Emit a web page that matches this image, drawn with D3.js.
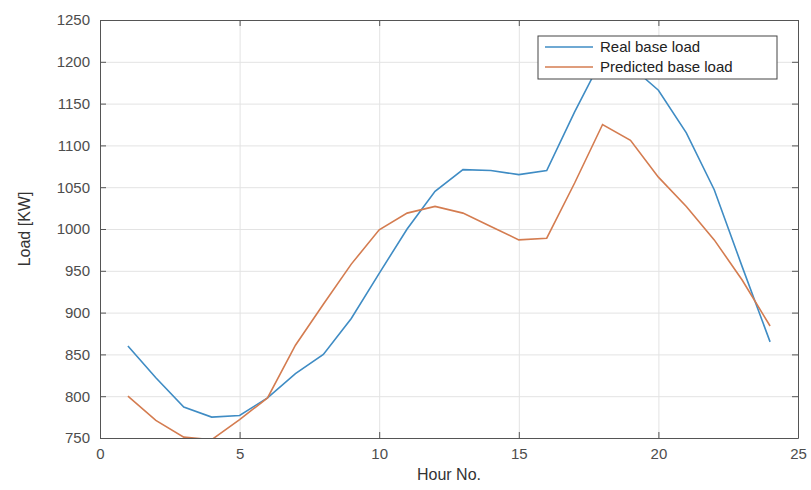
<!DOCTYPE html>
<html>
<head>
<meta charset="utf-8">
<script src="https://cdn.jsdelivr.net/npm/d3@7"></script>
<style>
  body { margin: 0; background: #fff; }
  svg { display: block; font-family: "Liberation Sans", Arial, sans-serif; }
  .grid line { stroke: #e3e3e3; stroke-width: 1; }
  .grid path { display: none; }
  .axis text { fill: #4d4d4d; font-size: 15px; }
  .axis path, .axis line { stroke: #555; }
</style>
</head>
<body>
<div id="chart"></div>
<script>
// Hourly base load
var hours = [1, 2, 3, 4, 5, 6, 7, 8, 9, 10, 11, 12, 13, 14, 15, 16, 17, 18, 19, 20, 21, 22, 23, 24];
var realLoad = [860, 822, 787, 775, 777, 798, 827, 850, 893, 947, 1000, 1045, 1071, 1070, 1065, 1070, 1140, 1205, 1195, 1166, 1115, 1047, 955, 865];
var predictedLoad = [800, 771, 751, 748, 772, 798, 861, 910, 958, 999, 1019, 1027, 1019, 1003, 987, 989, 1055, 1125, 1106, 1062, 1027, 987, 939, 884];
var xTicks = [0, 5, 10, 15, 20, 25];
var yTicks = [750, 800, 850, 900, 950, 1000, 1050, 1100, 1150, 1200, 1250];
var seriesNames = ["Real base load", "Predicted base load"];
var seriesColors = ["#3f8cc4", "#d47c50"];

var W = 811, H = 490;
var margin = { top: 20, right: 13, bottom: 52, left: 100 };
var width = W - margin.left - margin.right;
var height = H - margin.top - margin.bottom;

var svg = d3.select("#chart").append("svg")
    .attr("width", W)
    .attr("height", H);

var g = svg.append("g")
    .attr("transform", "translate(" + margin.left + "," + margin.top + ")");

var x = d3.scaleLinear().domain([0, 25]).range([0, width]);
var y = d3.scaleLinear().domain([750, 1250]).range([height, 0]);

// Grid
g.append("g").attr("class", "grid")
    .attr("transform", "translate(0," + height + ")")
    .call(d3.axisBottom(x).tickValues(xTicks).tickSize(-height).tickFormat(""));
g.append("g").attr("class", "grid")
    .call(d3.axisLeft(y).tickValues(yTicks).tickSize(-width).tickFormat(""));

// Clip lines to plot box
g.append("clipPath").attr("id", "clip")
  .append("rect").attr("width", width).attr("height", height);

var line = d3.line()
    .x(function (d) { return x(d.h); })
    .y(function (d) { return y(d.v); });

[realLoad, predictedLoad].forEach(function (vals, i) {
    var data = hours.map(function (h, j) { return { h: h, v: vals[j] }; });
    g.append("path")
        .datum(data)
        .attr("clip-path", "url(#clip)")
        .attr("fill", "none")
        .attr("stroke", seriesColors[i])
        .attr("stroke-width", 1.6)
        .attr("d", line);
});

// Axes, MATLAB style: inward ticks on all four sides
g.append("g").attr("class", "axis")
    .attr("transform", "translate(0," + height + ")")
    .call(d3.axisBottom(x).tickValues(xTicks).tickFormat(d3.format("d"))
        .tickSizeInner(-6).tickSizeOuter(0).tickPadding(10));
g.append("g").attr("class", "axis")
    .call(d3.axisLeft(y).tickValues(yTicks).tickFormat(d3.format("d"))
        .tickSizeInner(-6).tickSizeOuter(0).tickPadding(10));
g.append("g").attr("class", "axis")
    .call(d3.axisTop(x).tickValues(xTicks).tickSizeInner(-6).tickSizeOuter(0).tickFormat(""));
g.append("g").attr("class", "axis")
    .attr("transform", "translate(" + width + ",0)")
    .call(d3.axisRight(y).tickValues(yTicks).tickSizeInner(-6).tickSizeOuter(0).tickFormat(""));

// Axis labels
svg.append("text")
    .attr("x", margin.left + width / 2)
    .attr("y", H - 10)
    .attr("text-anchor", "middle")
    .attr("fill", "#333")
    .attr("font-size", "16px")
    .text("Hour No.");

svg.append("text")
    .attr("transform", "translate(30," + (margin.top + height / 2) + ") rotate(-90)")
    .attr("text-anchor", "middle")
    .attr("fill", "#333")
    .attr("font-size", "16px")
    .text("Load [KW]");

// Legend
var legend = svg.append("g").attr("transform", "translate(538,36)");
legend.append("rect")
    .attr("width", 239).attr("height", 43)
    .attr("fill", "#fff").attr("stroke", "#444").attr("stroke-width", 1);
seriesNames.forEach(function (name, i) {
    var ly = 11 + i * 20;
    legend.append("line")
        .attr("x1", 7).attr("x2", 55).attr("y1", ly).attr("y2", ly)
        .attr("stroke", seriesColors[i]).attr("stroke-width", 1.6);
    legend.append("text")
        .attr("x", 62).attr("y", ly + 5)
        .attr("fill", "#222")
        .attr("font-size", "15px")
        .text(name);
});
</script>
</body>
</html>
